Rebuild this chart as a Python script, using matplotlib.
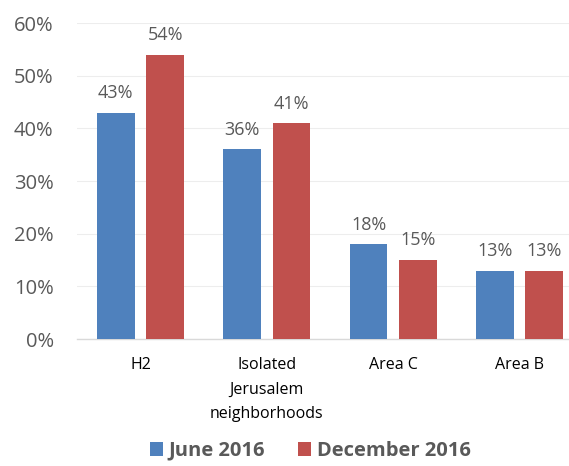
import numpy as np
import matplotlib.pyplot as plt

categories = ["H2", "Isolated\nJerusalem\nneighborhoods", "Area C", "Area B"]
june_2016 = [43, 36, 18, 13]
december_2016 = [54, 41, 15, 13]
series_names = ["June 2016", "December 2016"]
yticks = [0, 10, 20, 30, 40, 50, 60]

plt.rcParams['font.family'] = ['Open Sans', 'DejaVu Sans']
grey = '#595959'

fig = plt.figure(figsize=(5.69, 4.66), dpi=100)
ax = fig.add_axes([77.3 / 569, 0.2725, 505.4 / 569, 0.678])

x = np.arange(len(categories))
w = 0.30
gap = 0.09
b1 = ax.bar(x - (w + gap) / 2, june_2016, w, color='#4F81BD', label=series_names[0], zorder=3)
b2 = ax.bar(x + (w + gap) / 2, december_2016, w, color='#C0504D', label=series_names[1], zorder=3)

for bars, vals in [(b1, june_2016), (b2, december_2016)]:
    for r, v in zip(bars, vals):
        ax.text(r.get_x() + r.get_width() / 2, v + 2.0, f"{v}%", ha='center', va='bottom',
                fontsize=13, color=grey)

ax.set_ylim(0, 60)
ax.set_xlim(-0.5, len(categories) - 0.5)
ax.set_yticks(yticks)
ax.set_yticklabels([f"{t}%" for t in yticks], fontsize=14.5, color=grey)
ax.set_xticks(x)
ax.set_xticklabels(categories, fontsize=11.5, color='#000000', linespacing=1.7)
ax.tick_params(axis='both', length=0)
ax.tick_params(axis='x', pad=13)
ax.tick_params(axis='y', pad=17)
ax.grid(axis='y', color='#EDEDED', linewidth=0.8, zorder=0)
for s in ['top', 'right', 'left']:
    ax.spines[s].set_visible(False)
ax.spines['bottom'].set_color('#D9D9D9')
ax.spines['bottom'].set_linewidth(1.0)

leg = fig.legend(loc='lower center', bbox_to_anchor=(0.545, -0.028), ncol=2, frameon=False,
                 prop={'weight': 'bold', 'size': 14.5}, handlelength=0.65, handleheight=0.65,
                 handletextpad=0.3, columnspacing=1.6)
for t in leg.get_texts():
    t.set_color(grey)

fig.savefig('out.png', dpi=100)
